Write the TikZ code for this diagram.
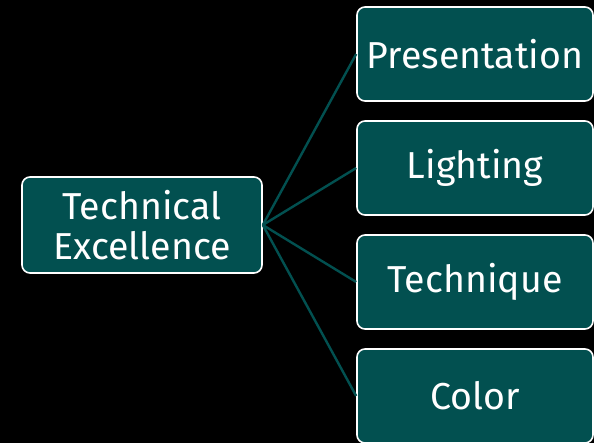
\documentclass[tikz,border=0pt]{standalone}
\usepackage{fontspec}
\setmainfont{Fira Sans}
\definecolor{tealbox}{RGB}{2,80,80}
\begin{document}
\begin{tikzpicture}
      [ 
        x=1pt, y=1pt,
        every node/.style={draw=white, line width=1.6pt, rounded corners=8pt,
          fill=tealbox, text=white, align=center,
          font=\fontsize{37.5}{40}\selectfont},
        grow=east,
        edge from parent/.style={draw=tealbox, line width=2.4pt},
        edge from parent path={(\tikzparentnode.east) -- (\tikzchildnode.west)},
        level 1/.style={sibling distance=114pt, level distance=333pt,
          nodes={minimum width=236pt, minimum height=94pt}}
      ]
      \fill[black] (0,0) rectangle (594,443);
      \useasboundingbox (0,0) rectangle (594,443);
      \node[minimum width=240pt, minimum height=96pt] (excellence) at (142,218) {Technical\\Excellence}
        child {node (color) {Color}}
        child {node (technique) {Technique}}
        child {node (lighting) {Lighting}}
        child {node (presentation) {Presentation}}
       ;
     \end{tikzpicture}
\end{document}
